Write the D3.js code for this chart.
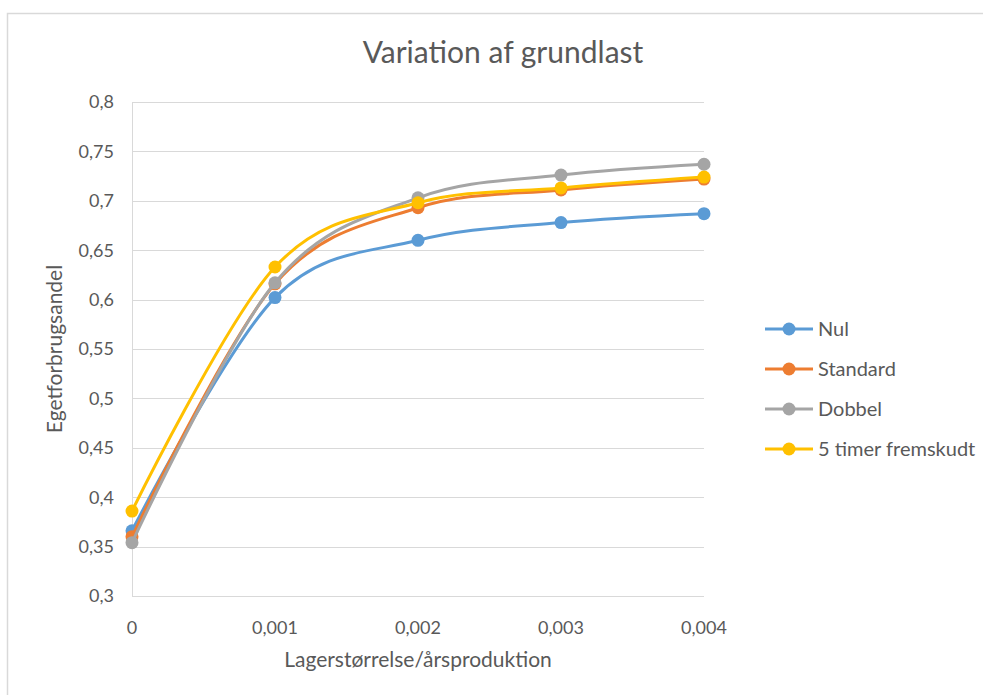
<!DOCTYPE html>
<html>
<head>
<meta charset="utf-8">
<script src="https://cdnjs.cloudflare.com/ajax/libs/d3/7.8.5/d3.min.js"></script>
<style>
  body { margin: 0; background: #fff; }
  text { font-family: Lato, "Open Sans", sans-serif; fill: #595959; }
</style>
</head>
<body>
<svg width="983" height="695"></svg>
<script>
// data
var xValues = [0, 0.001, 0.002, 0.003, 0.004];
var nul      = [0.366, 0.602, 0.660, 0.678, 0.687];
var standard = [0.360, 0.616, 0.693, 0.711, 0.722];
var dobbel   = [0.354, 0.617, 0.703, 0.726, 0.737];
var fem      = [0.386, 0.633, 0.698, 0.713, 0.724];
var seriesNames = ['Nul', 'Standard', 'Dobbel', '5 timer fremskudt'];
var seriesColors = ['#5B9BD5', '#ED7D31', '#A5A5A5', '#FFC000'];
var yTicks = [0.3, 0.35, 0.4, 0.45, 0.5, 0.55, 0.6, 0.65, 0.7, 0.75, 0.8];

var series = [nul, standard, dobbel, fem].map(function(vals, i){
  return { name: seriesNames[i], color: seriesColors[i],
    pts: vals.map(function(v, j){ return [xValues[j], v]; }) };
});

var svg = d3.select('svg');

// chart border (runs off the right / bottom edge)
svg.append('rect')
  .attr('x', 7.5).attr('y', 13.5)
  .attr('width', 1000).attr('height', 700)
  .attr('fill', 'none').attr('stroke', '#d9d9d9').attr('stroke-width', 1.5);

var x = d3.scaleLinear().domain([0, 0.004]).range([132, 704]);
var y = d3.scaleLinear().domain([0.3, 0.8]).range([596, 102]);

var fmt = function(d){ return d3.format('')(+d.toFixed(4)).replace('.', ','); };

// gridlines
svg.append('g').selectAll('line').data(yTicks).enter().append('line')
  .attr('x1', x(0)).attr('x2', x(0.004))
  .attr('y1', function(d){ return Math.round(y(d)) + 0.5; })
  .attr('y2', function(d){ return Math.round(y(d)) + 0.5; })
  .attr('stroke', '#d9d9d9').attr('stroke-width', 1);

// vertical axis line
svg.append('line')
  .attr('x1', x(0) + 0.5).attr('x2', x(0) + 0.5)
  .attr('y1', y(0.8)).attr('y2', y(0.3))
  .attr('stroke', '#d9d9d9');

// y tick labels
svg.append('g').selectAll('text').data(yTicks).enter().append('text')
  .attr('x', 114).attr('y', function(d){ return y(d); })
  .attr('dy', '0.35em').attr('text-anchor', 'end')
  .style('font-size', '18px')
  .text(fmt);

// x tick labels
svg.append('g').selectAll('text').data(xValues).enter().append('text')
  .attr('x', function(d){ return x(d); }).attr('y', 634)
  .attr('text-anchor', 'middle')
  .style('font-size', '18px')
  .text(fmt);

// titles
svg.append('text').attr('x', 503).attr('y', 63)
  .attr('text-anchor', 'middle').style('font-size', '30px')
  .text('Variation af grundlast');

svg.append('text').attr('x', 418).attr('y', 667)
  .attr('text-anchor', 'middle').style('font-size', '21px')
  .text('Lagerstørrelse/årsproduktion');

svg.append('text')
  .attr('transform', 'translate(62,349) rotate(-90)')
  .attr('text-anchor', 'middle').style('font-size', '21px')
  .text('Egetforbrugsandel');

// lines
var line = d3.line()
  .x(function(d){ return x(d[0]); })
  .y(function(d){ return y(d[1]); })
  .curve(d3.curveCardinal.tension(0));

var g = svg.append('g').selectAll('g').data(series).enter().append('g');

g.append('path')
  .attr('d', function(d){ return line(d.pts); })
  .attr('fill', 'none')
  .attr('stroke', function(d){ return d.color; })
  .attr('stroke-width', 3)
  .attr('stroke-linecap', 'round');

g.selectAll('circle').data(function(d){
    return d.pts.map(function(p){ return { p: p, c: d.color }; });
  }).enter().append('circle')
  .attr('cx', function(d){ return x(d.p[0]); })
  .attr('cy', function(d){ return y(d.p[1]); })
  .attr('r', 6.5)
  .attr('fill', function(d){ return d.c; });

// legend
var leg = svg.append('g').selectAll('g').data(series).enter().append('g')
  .attr('transform', function(d, i){ return 'translate(765,' + (329 + i * 40) + ')'; });

leg.append('line')
  .attr('x1', 0).attr('x2', 48)
  .attr('stroke', function(d){ return d.color; })
  .attr('stroke-width', 3);

leg.append('circle').attr('cx', 24).attr('r', 6.5)
  .attr('fill', function(d){ return d.color; });

leg.append('text').attr('x', 53).attr('dy', '0.35em')
  .style('font-size', '20px')
  .text(function(d){ return d.name; });
</script>
</body>
</html>
